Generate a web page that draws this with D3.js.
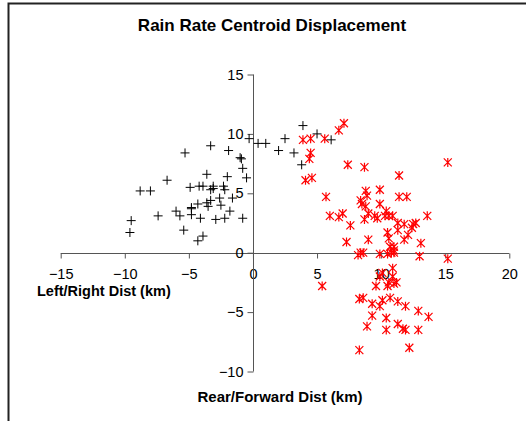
<!DOCTYPE html>
<html>
<head>
<meta charset="utf-8">
<script src="https://cdn.jsdelivr.net/npm/d3@7"></script>
<style>
  html, body { margin: 0; padding: 0; background: #fff; }
  svg { display: block; font-family: "Liberation Sans", Arial, sans-serif; }
</style>
</head>
<body>
<svg id="chart" width="526" height="421"></svg>
<script>
// Centroid displacement (km): black "+" series and red "*" series
const blackX = [-0.3, 0.4, 1.0, 2.0, -3.3, -5.3, -1.9, -1.0, -0.9, -0.8, -0.5, -6.7, -3.6, -2.0, -8.8, -8.0,
  -4.9, -4.2, -3.9, -3.3, -3.1, -3.1, -2.3, -2.2, -2.6, -1.6, -4.3, -3.6, -3.5, -3.3, -4.8, -4.8, -2.5,
  -6.0, -5.7, -7.4, -4.8, -4.1, -2.9, -2.2, -1.8, -0.8, -9.5, -9.6, -5.4, -3.9, -4.3, 3.9, 2.5, 5.0, 6.1, 3.2, 3.8];
const blackY = [9.6, 9.2, 9.2, 8.6, 9.0, 8.4, 8.6, 8.0, 7.9, 7.1, 6.3, 6.1, 6.6, 6.4, 5.2, 5.2,
  5.5, 5.6, 5.6, 5.3, 5.6, 5.4, 5.6, 5.3, 4.6, 4.6, 4.1, 4.2, 3.9, 4.4, 3.8, 3.7, 4.0,
  3.5, 3.1, 3.1, 3.2, 2.9, 2.8, 2.9, 3.5, 2.9, 2.7, 1.7, 1.9, 1.4, 1.0, 10.7, 9.6, 10.0, 9.5, 8.4, 7.4];

const redX = [7.1, 6.7, 3.9, 4.5, 5.6, 4.5, 4.4, 7.4, 8.7, 15.2, 11.4, 4.1, 4.6, 5.7, 8.8, 8.9, 9.9, 11.4, 12.0,
  8.4, 8.5, 8.8, 9.9, 6.0, 6.7, 7.0, 9.0, 9.5, 9.7, 10.4, 10.3, 10.6, 10.9, 13.6, 7.6, 8.7, 11.3, 11.8, 11.3,
  12.5, 12.7, 12.4, 10.5, 10.6, 10.7, 12.1, 11.8, 13.1, 7.3, 9.0, 11.0, 8.2, 8.4, 8.6, 9.9, 10.5, 10.8, 11.0,
  11.0, 13.0, 15.2, 5.4, 10.9, 10.1, 9.9, 10.9, 11.2, 10.6, 9.6, 10.5, 11.0, 8.3, 8.6, 9.3, 9.9, 10.1, 10.7,
  11.3, 11.9, 12.9, 13.7, 9.3, 10.4, 8.9, 10.4, 11.3, 11.7, 11.9, 12.9, 8.3, 12.2];
const redY = [10.9, 10.3, 9.5, 9.6, 9.6, 8.4, 7.9, 7.4, 7.2, 7.6, 6.5, 6.1, 6.3, 4.7, 5.2, 4.8, 5.3, 4.7, 4.7,
  4.4, 4.1, 3.9, 4.1, 3.1, 3.0, 3.3, 3.3, 3.1, 2.9, 3.5, 3.1, 3.1, 3.1, 3.1, 2.3, 2.8, 2.5, 2.4, 1.9,
  2.4, 2.5, 2.1, 1.7, 1.2, 0.5, 1.5, 1.1, 0.8, 0.9, 1.1, 0.5, -0.2, 0.0, 0.0, -0.1, -0.1, 0.0, 0.2,
  0.0, -0.3, -0.5, -2.8, -1.3, -1.7, -2.0, -2.0, -2.5, -2.5, -2.8, -2.8, -2.6, -3.9, -3.8, -4.3, -4.5, -4.0, -3.8,
  -4.1, -4.5, -4.9, -5.4, -5.3, -5.5, -6.2, -6.5, -6.0, -6.4, -6.5, -6.5, -8.2, -8.0];

const xTicks = [-15, -10, -5, 0, 5, 10, 15, 20];
const yTicks = [-10, -5, 0, 5, 10, 15];

const titleText = "Rain Rate Centroid Displacement";
const xTitle = "Left/Right Dist (km)";
const yTitle = "Rear/Forward Dist (km)";

const svg = d3.select("#chart");

// Outer chart frame (left and top edges visible within the window)
svg.append("rect")
  .attr("x", 8.5).attr("y", 3.5)
  .attr("width", 530).attr("height", 430)
  .attr("fill", "#fff")
  .attr("stroke", "#222").attr("stroke-width", 2);

const x = d3.scaleLinear().domain([-15, 20]).range([60.7, 509.3]);
const y = d3.scaleLinear().domain([-10, 15]).range([371.5, 74.5]);

// Title
svg.append("text")
  .attr("x", 272).attr("y", 27)
  .attr("text-anchor", "middle")
  .attr("dominant-baseline", "middle")
  .attr("font-size", 17).attr("font-weight", "bold")
  .text(titleText);

// X axis through y = 0
const xAxis = d3.axisBottom(x).tickValues(xTicks).tickSize(5).tickSizeOuter(0).tickFormat(d3.format("d"));
const gx = svg.append("g").attr("transform", `translate(0,${Math.round(y(0)) + 0.5})`).call(xAxis);
gx.select(".domain").attr("stroke", "#555").attr("d", `M${x(-15)},0H${x(20)}`);
gx.selectAll(".tick line").attr("stroke", "#555").attr("y2", 5);
gx.selectAll(".tick text").attr("font-size", 14.5).attr("font-family", "Liberation Sans, Arial, sans-serif")
  .attr("fill", "#000").attr("y", 15).attr("dy", "0.71em");

// Y axis through x = 0
const yAxis = d3.axisLeft(y).tickValues(yTicks).tickSize(6).tickSizeOuter(0).tickFormat(d3.format("d"));
const gy = svg.append("g").attr("transform", `translate(${Math.round(x(0)) + 0.5},0)`).call(yAxis);
gy.select(".domain").attr("stroke", "#555").attr("d", `M0,${y(15)}V${y(-10)}`);
gy.selectAll(".tick line").attr("stroke", "#555");
gy.selectAll(".tick text").attr("font-size", 14.5).attr("font-family", "Liberation Sans, Arial, sans-serif")
  .attr("fill", "#000").attr("x", -10);

// Axis titles
svg.append("text")
  .attr("x", 37).attr("y", 292)
  .attr("dominant-baseline", "middle")
  .attr("font-size", 14.5).attr("font-weight", "bold")
  .text(xTitle);
svg.append("text")
  .attr("x", 280).attr("y", 398)
  .attr("text-anchor", "middle")
  .attr("dominant-baseline", "middle")
  .attr("font-size", 15).attr("font-weight", "bold")
  .text(yTitle);

// Red asterisk markers
const red = d3.range(redX.length).map(i => [redX[i], redY[i]]);
const starPath = "M-4,-4L4,4M-4,4L4,-4M0,-4.5V4.5";
svg.append("g").selectAll("path").data(red).join("path")
  .attr("transform", d => `translate(${x(d[0])},${y(d[1])})`)
  .attr("d", starPath)
  .attr("fill", "none").attr("stroke", "#ff0000").attr("stroke-width", 1.2);

// Black plus markers
const black = d3.range(blackX.length).map(i => [blackX[i], blackY[i]]);
const plusPath = "M-4.5,0H4.5M0,-4.5V4.5";
svg.append("g").selectAll("path").data(black).join("path")
  .attr("transform", d => `translate(${x(d[0])},${y(d[1])})`)
  .attr("d", plusPath)
  .attr("fill", "none").attr("stroke", "#000").attr("stroke-width", 1);
</script>
</body>
</html>
